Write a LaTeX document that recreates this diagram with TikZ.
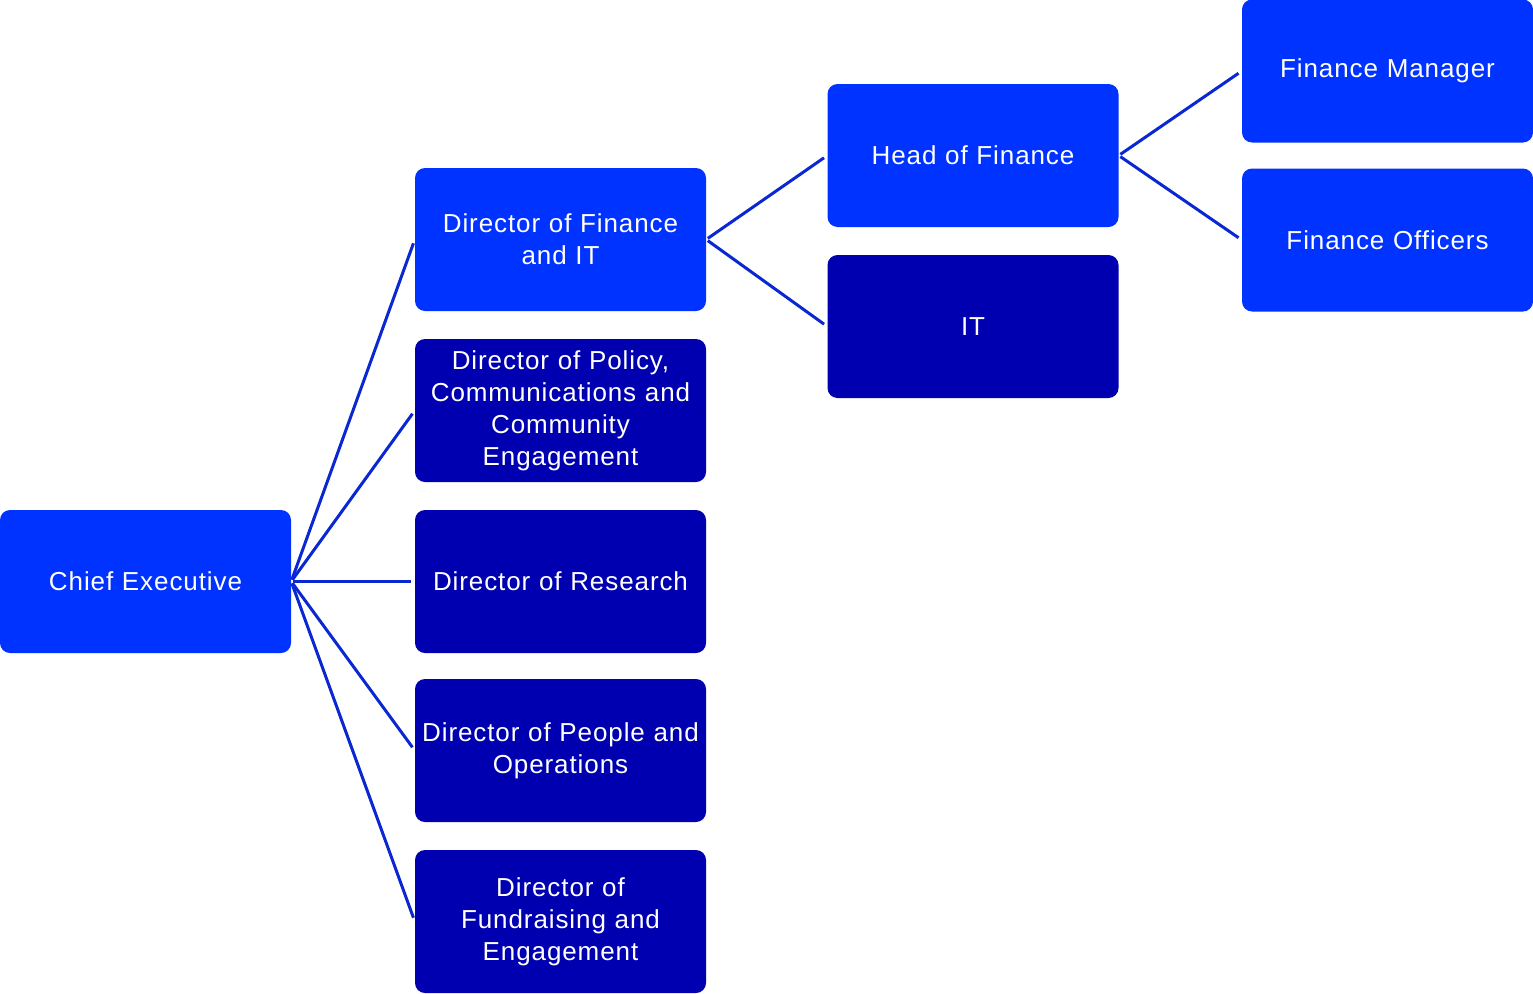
\documentclass[tikz,border=0pt]{standalone}
\usepackage{fontspec}
\setmainfont{Liberation Sans}[LetterSpace=3.5]
\usepackage{tikz}
\usetikzlibrary{calc}
\definecolor{chiaro}{HTML}{0033FF}
\definecolor{scuro}{HTML}{0000B0}
\definecolor{linea}{HTML}{0A28D2}
\tikzset{
ruolo/.style={rectangle,rounded corners=10pt,minimum width=291pt,minimum height=143pt,
  text width=291pt,align=center,inner sep=0pt,text=white,
  font=\fontsize{26}{32}\selectfont},
chiaro node/.style={ruolo,fill=chiaro},
scuro node/.style={ruolo,fill=scuro},
legame/.style={draw=linea,line width=3pt,shorten <=2pt,shorten >=4pt}}

\begin{document}
\begin{tikzpicture}[x=1pt,y=-1pt]

\useasboundingbox (0,0) rectangle (1533,993);

\node[chiaro node] (ce) at (145.5,581.5) {Chief Executive};

\node[chiaro node] (dfi) at (560.5,239.5) {Director of Finance\\and IT};
\node[scuro node] (dpc) at (560.5,410.5) {Director of Policy,\\Communications and\\Community\\Engagement};
\node[scuro node] (dr) at (560.5,581.5) {Director of Research};
\node[scuro node] (dpo) at (560.5,750.5) {Director of People and\\Operations};
\node[scuro node] (dfe) at (560.5,921.5) {Director of\\Fundraising and\\Engagement};

\node[chiaro node] (hf) at (973,155.5) {Head of Finance};
\node[scuro node] (it) at (973,326.5) {IT};

\node[chiaro node] (fm) at (1387.5,71) {Finance Manager};
\node[chiaro node] (fo) at (1387.5,240) {Finance Officers};

\path[legame]
	(ce.east) edge (dfi.west)
	(ce.east) edge (dpc.west)
	(ce.east) edge (dr.west)
	(ce.east) edge (dpo.west)
	(ce.east) edge (dfe.west);
\path[legame]
	(dfi.east) edge (hf.west)
	(dfi.east) edge (it.west);
\path[legame]
	(hf.east) edge (fm.west)
	(hf.east) edge (fo.west);
\end{tikzpicture}
\end{document}
